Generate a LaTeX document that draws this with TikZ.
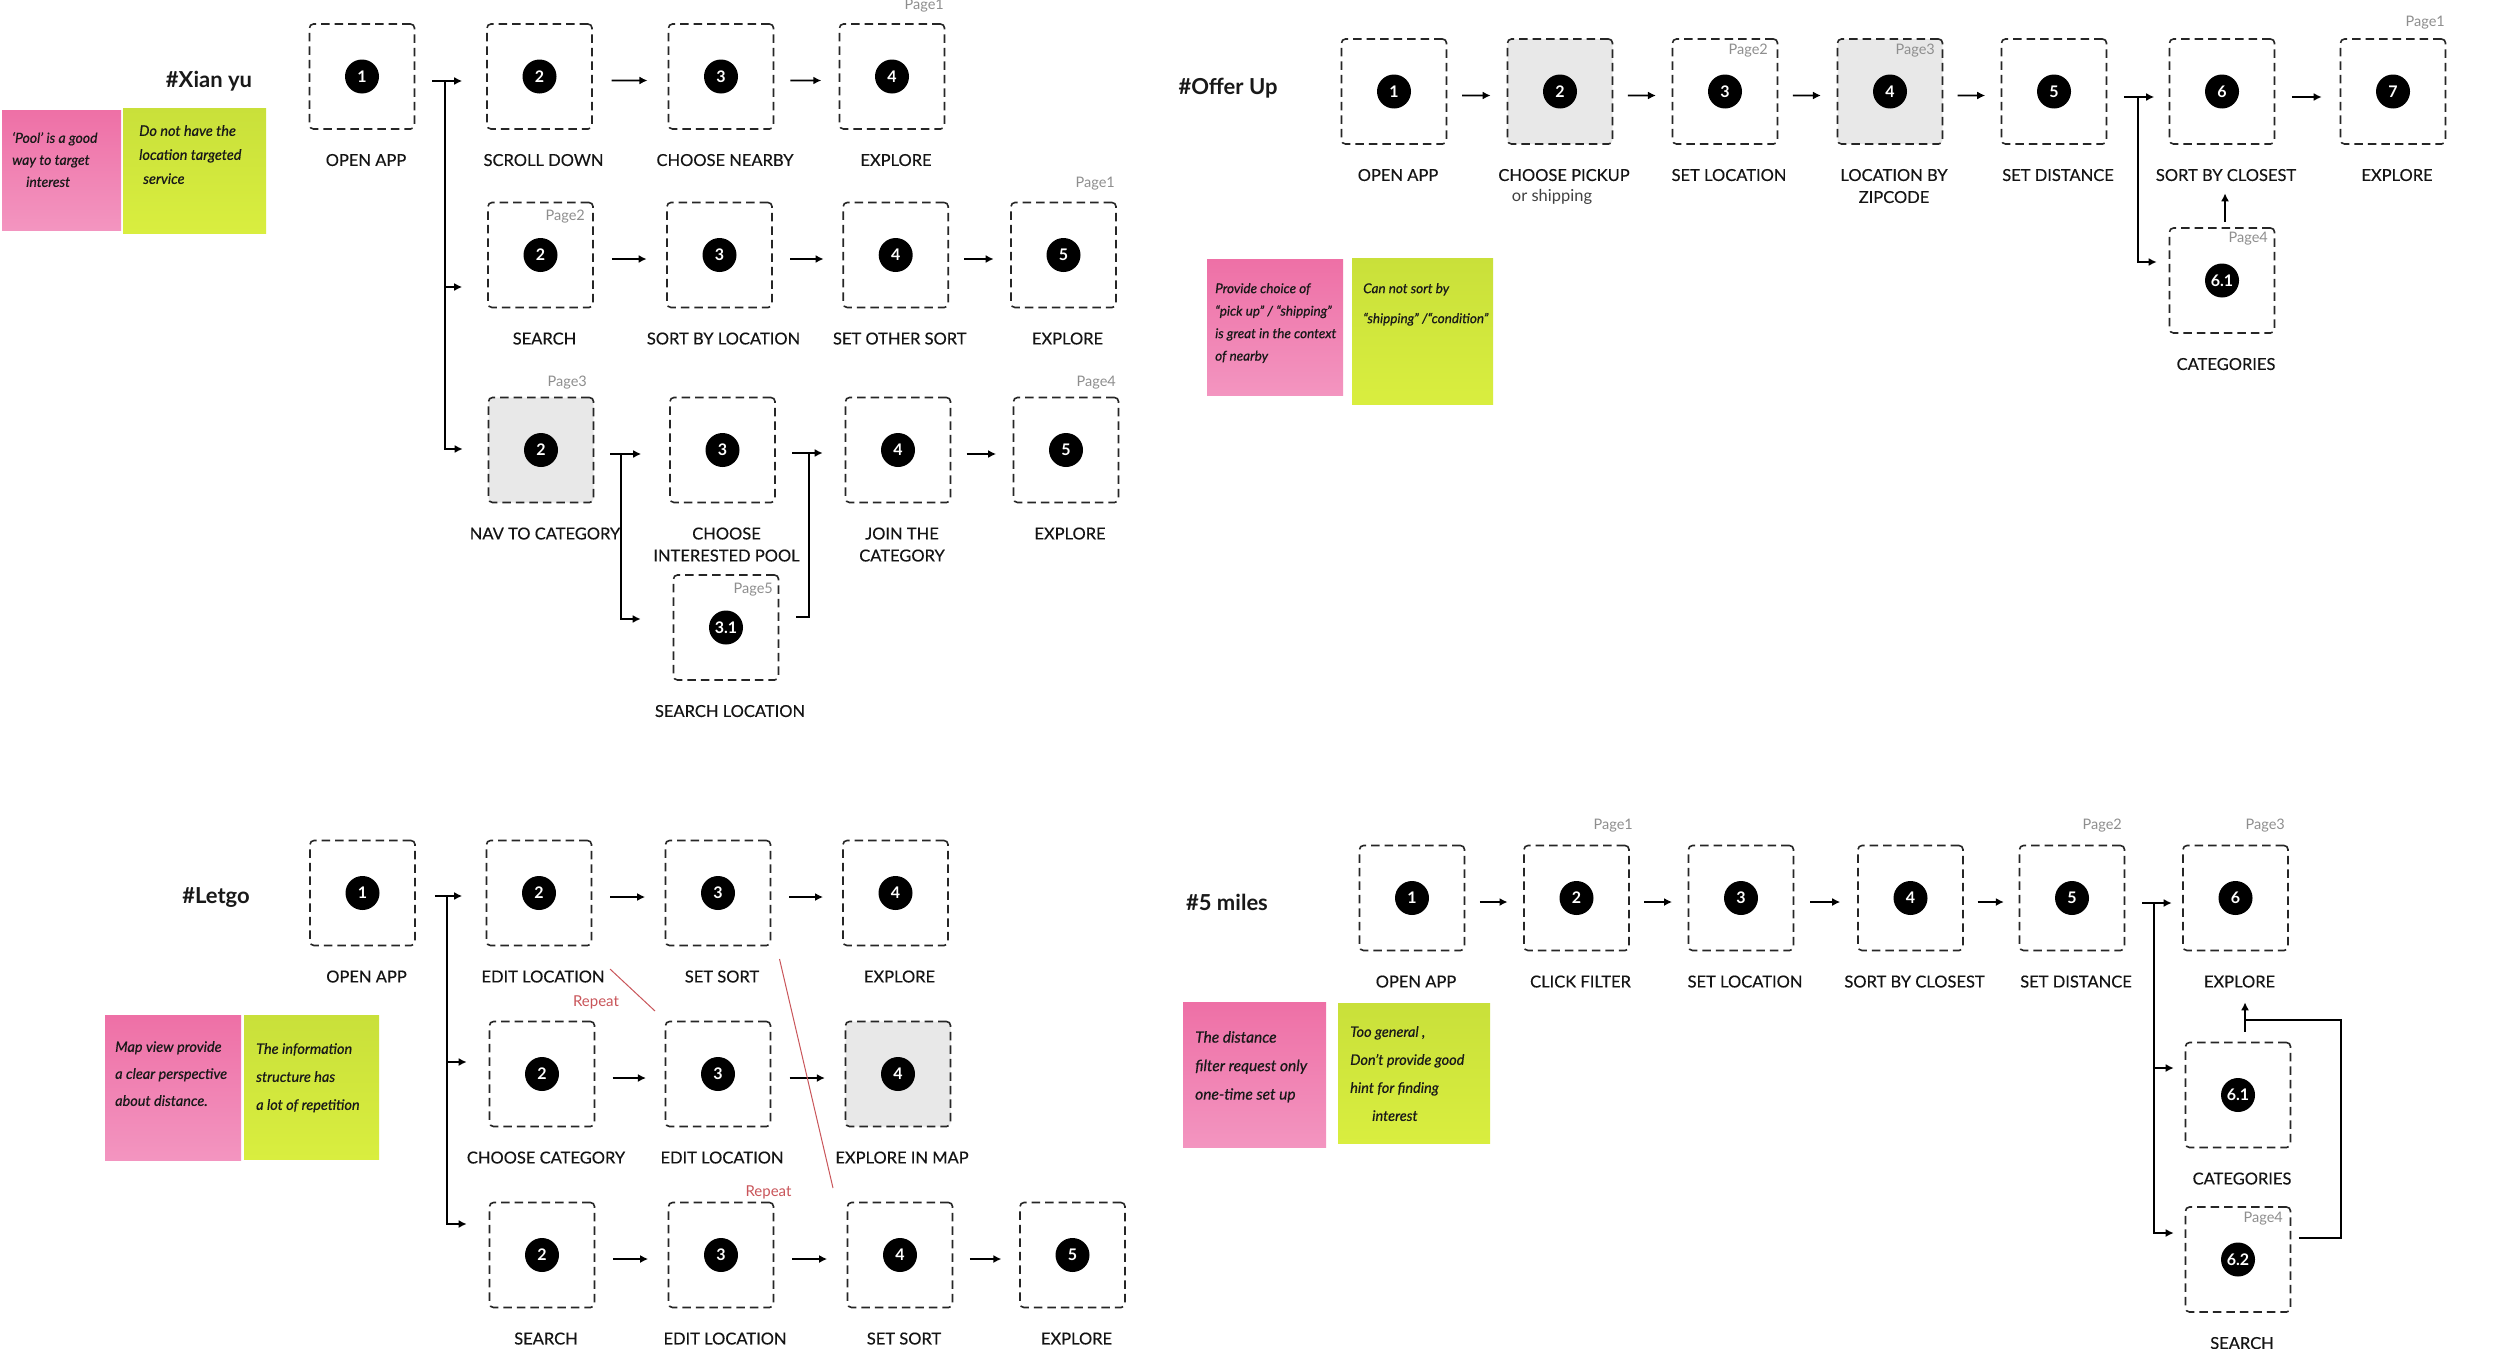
\documentclass[tikz,border=0pt]{standalone}
\usepackage{fontspec}
\setmainfont{Lato}
\newfontfamily\lblfont{Lato}[FakeBold=0.35]
\newfontfamily\notefont{Lato}[FakeBold=0.6]
\usetikzlibrary{arrows.meta,calc}
\definecolor{stkpinkA}{HTML}{EE70A6}
\definecolor{stkpinkB}{HTML}{F395C0}
\definecolor{stkgreenA}{HTML}{C9E03A}
\definecolor{stkgreenB}{HTML}{D9EE3F}
\definecolor{boxgray}{HTML}{E8E8E8}
\definecolor{pagegray}{HTML}{8E8E8E}
\definecolor{repred}{HTML}{C9555A}
\tikzset{
  scr/.style={draw=black!85, line width=1.6pt, dash pattern=on 8.5pt off 5pt,
    rounded corners=4pt, minimum width=105pt, minimum height=105pt, inner sep=0pt},
  grayscr/.style={scr, fill=boxgray},
  num/.style={circle, fill=black, text=white, minimum size=34pt, inner sep=0pt,
    font=\fontsize{16}{16}\selectfont\bfseries},
  lbl/.style={anchor=north, inner sep=0pt, align=center, text=black!92,
    font=\lblfont\fontsize{16.5}{22}\selectfont},
  sublbl/.style={inner sep=0pt, text=black!75, font=\fontsize{16.5}{22}\selectfont},
  flow/.style={line width=1.8pt, -{Latex[length=8pt,width=8pt]}},
  link/.style={line width=1.8pt},
  pg/.style={anchor=east, inner sep=0pt, text=pagegray, font=\fontsize{14.5}{14.5}\selectfont},
  head/.style={inner sep=0pt, text=black!90, font=\fontsize{22}{22}\selectfont\bfseries},
  stkpink/.style={anchor=north west, inner sep=0pt, top color=stkpinkA, bottom color=stkpinkB},
  stkgreen/.style={anchor=north west, inner sep=0pt, top color=stkgreenA, bottom color=stkgreenB},
  note/.style={anchor=north west, inner sep=0pt, align=left, text=black!90},
  rep/.style={inner sep=0pt, text=repred, font=\fontsize{15}{15}\selectfont},
  repline/.style={draw=repred, line width=1pt},
}
\newcommand\scrnode[5]{%
  \node[#2] (#1) at (#3) {};
  \node[num] (#1n) at (#1) {#4};
  \node[lbl] (#1l) at ($(#1.south)+(4,24)$) {#5};}
\newcommand\flowto[2]{%
  \draw[flow] ($(#1.east)!0.25!(#2.west)+(0,4)$) -- ($(#1.east)!0.73!(#2.west)+(0,4)$);}
\begin{document}
\begin{tikzpicture}[x=1pt,y=-1pt]
\fill[white] (0,0) rectangle (2500,1349);
\useasboundingbox (0,0) rectangle (2500,1349);

% ================= #Xian yu =================
\node[head] (hx) at (209,81) {\#Xian yu};
\node[stkpink, minimum width=119pt, minimum height=120pt] (xs1) at (2,110) {};
\node[stkgreen, minimum width=143pt, minimum height=125pt] (xs2) at (123,108) {};
\node[note, font=\notefont\fontsize{14}{22}\selectfont\itshape] (xs1t) at (12,132) {‘Pool’ is a good\\way to target\\\hspace*{14pt}interest};
\node[note, font=\notefont\fontsize{14.5}{24}\selectfont\itshape] (xs2t) at (139,125) {Do not have the\\location targeted\\\hspace*{4pt}service};

\scrnode{xa1}{scr}{362,76.5}{1}{OPEN APP}
\scrnode{xa2}{scr}{539.5,76.5}{2}{SCROLL DOWN}
\scrnode{xa3}{scr}{721,76.5}{3}{CHOOSE NEARBY}
\scrnode{xa4}{scr}{892,76.5}{4}{EXPLORE}
\scrnode{xb2}{scr}{540.5,255}{2}{SEARCH}
\scrnode{xb3}{scr}{719.5,255}{3}{SORT BY LOCATION}
\scrnode{xb4}{scr}{895.7,255}{4}{SET OTHER SORT}
\scrnode{xb5}{scr}{1063.5,255}{5}{EXPLORE}
\scrnode{xc2}{grayscr}{541,450}{2}{NAV TO CATEGORY}
\scrnode{xc3}{scr}{722.5,450}{3}{CHOOSE\\INTERESTED POOL}
\scrnode{xc4}{scr}{898,450}{4}{JOIN THE\\CATEGORY}
\scrnode{xc5}{scr}{1066,450}{5}{EXPLORE}
\scrnode{xc31}{scr}{726,627.5}{3.1}{SEARCH LOCATION}

\node[pg] (xa4p) at (944,6) {Page1};
\node[pg] (xb2p) at (585,217) {Page2};
\node[pg] (xb5p) at (1115,184) {Page1};
\node[pg] (xc2p) at (587,383) {Page3};
\node[pg] (xc5p) at (1116,383) {Page4};
\node[pg] (xc31p) at (773,590) {Page5};

\draw[flow] ($(xa1.east)+(17,4.5)$) -- ($(xa2.west)+(-24,4.5)$);
\coordinate (xj1) at ($(xa1.east)+(29.7,4.5)$);
\coordinate (xj2) at ($(xj1)+(0,206)$);
\draw[flow] (xj1) |- ($(xc2.west)+(-25,-1)$);
\draw[flow] (xj2) -- ($(xj2 -| xb2.west)+(-25,0)$);
\flowto{xa2}{xa3}
\flowto{xa3}{xa4}
\flowto{xb2}{xb3}
\flowto{xb3}{xb4}
\flowto{xb4}{xb5}
\draw[flow] ($(xc2.east)+(16,4)$) -- ($(xc3.west)+(-28,4)$);
\coordinate (xk1) at ($(xc2.east)+(27,4)$);
\draw[flow] (xk1) |- ($(xc31.west)+(-32,-8.5)$);
\draw[flow] ($(xc3.east)+(16.5,3)$) -- ($(xc4.west)+(-22,3)$);
\coordinate (xk3) at ($(xc3.east)+(33.5,3)$);
\draw[link] ($(xc31.east)+(17,-10.5)$) -| (xk3);
\flowto{xc4}{xc5}

% ================= #Offer Up =================
\node[head] (ho) at (1228,88) {\#Offer Up};
\node[stkpink, minimum width=136pt, minimum height=136pt] (os1) at (1207,259) {};
\node[stkgreen, minimum width=141pt, minimum height=146pt] (os2) at (1352,258) {};
\node[note, font=\notefont\fontsize{13.5}{22.5}\selectfont\itshape] (os1t) at (1215,283) {Provide choice of\\“pick up” / “shipping”\\is great in the context\\of nearby};
\node[note, font=\notefont\fontsize{13.5}{30}\selectfont\itshape] (os2t) at (1363,283) {Can not sort by\\“shipping” /“condition”};

\scrnode{ob1}{scr}{1394,91.5}{1}{OPEN APP}
\scrnode{ob2}{grayscr}{1560,91.5}{2}{CHOOSE PICKUP}
\node[sublbl] (ob2s) at (1552,197) {or shipping};
\scrnode{ob3}{scr}{1725,91.5}{3}{SET LOCATION}
\scrnode{ob4}{grayscr}{1890,91.5}{4}{LOCATION BY\\ZIPCODE}
\scrnode{ob5}{scr}{2054,91.5}{5}{SET DISTANCE}
\scrnode{ob6}{scr}{2222,91.5}{6}{SORT BY CLOSEST}
\scrnode{ob7}{scr}{2393,91.5}{7}{EXPLORE}
\scrnode{o61}{scr}{2222,280.5}{6.1}{CATEGORIES}

\node[pg] (ob3p) at (1768,51) {Page2};
\node[pg] (ob4p) at (1935,51) {Page3};
\node[pg] (ob7p) at (2445,23) {Page1};
\node[pg] (o61p) at (2268,239) {Page4};

\flowto{ob1}{ob2}
\flowto{ob2}{ob3}
\flowto{ob3}{ob4}
\flowto{ob4}{ob5}
\draw[flow] ($(ob5.east)+(16.5,5.5)$) -- ($(ob6.west)+(-14.5,5.5)$);
\coordinate (oj) at ($(ob5.east)+(31,5.5)$);
\draw[flow] (oj) |- ($(o61.west)+(-12,-18.5)$);
\draw[flow] ($(ob6.east)+(16.5,5.5)$) -- ($(ob7.west)+(-18,5.5)$);
\draw[flow] ($(o61.north)+(3,-5)$) -- ($(ob6l.south -| o61.north)+(3,12)$);

% ================= #Letgo =================
\node[head] (hl) at (216,898) {\#Letgo};
\node[stkpink, minimum width=136pt, minimum height=145pt] (ls1) at (105,1015) {};
\node[stkgreen, minimum width=135pt, minimum height=144pt] (ls2) at (244,1015) {};
\node[note, font=\notefont\fontsize{14.5}{27}\selectfont\itshape] (ls1t) at (115,1041) {Map view provide\\a clear perspective\\about distance.};
\node[note, font=\notefont\fontsize{14.5}{28}\selectfont\itshape] (ls2t) at (256,1043) {The information\\structure has\\a lot of repetition};

\scrnode{la1}{scr}{362.5,893}{1}{OPEN APP}
\scrnode{la2}{scr}{539,893}{2}{EDIT LOCATION}
\scrnode{la3}{scr}{718,893}{3}{SET SORT}
\scrnode{la4}{scr}{895.5,893}{4}{EXPLORE}
\scrnode{lb2}{scr}{542,1074}{2}{CHOOSE CATEGORY}
\scrnode{lb3}{scr}{718,1074}{3}{EDIT LOCATION}
\scrnode{lb4}{grayscr}{898,1074}{4}{EXPLORE IN MAP}
\scrnode{lc2}{scr}{542,1255}{2}{SEARCH}
\scrnode{lc3}{scr}{721,1255}{3}{EDIT LOCATION}
\scrnode{lc4}{scr}{900,1255}{4}{SET SORT}
\scrnode{lc5}{scr}{1072.5,1255}{5}{EXPLORE}

\draw[flow] ($(la1.east)+(19,3)$) -- ($(la2.west)+(-23.5,3)$);
\coordinate (lj1) at ($(la1.east)+(31,3)$);
\coordinate (lj2) at ($(lj1)+(0,166)$);
\draw[flow] (lj1) |- ($(lc2.west)+(-22,-31)$);
\draw[flow] (lj2) -- ($(lj2 -| lb2.west)+(-22,0)$);
\flowto{la2}{la3}
\flowto{la3}{la4}
\flowto{lb2}{lb3}
\flowto{lb3}{lb4}
\flowto{lc2}{lc3}
\flowto{lc3}{lc4}
\flowto{lc4}{lc5}

\coordinate (r1a) at (610,969);
\coordinate (r1b) at (655,1011);
\draw[repline] (r1a) -- (r1b);
\node[rep] (rp1) at (596,1002) {Repeat};
\coordinate (r2a) at (779.5,959);
\coordinate (r2b) at (833,1188);
\draw[repline] (r2a) -- (r2b);
\node[rep] (rp2) at (768.5,1192) {Repeat};

% ================= #5 miles =================
\node[head] (hm) at (1227,902) {\#5 miles};
\node[stkpink, minimum width=143pt, minimum height=145pt] (ms1) at (1183,1002) {};
\node[stkgreen, minimum width=152pt, minimum height=140pt] (ms2) at (1338,1003) {};
\node[note, font=\notefont\fontsize{15.5}{28.5}\selectfont\itshape] (ms1t) at (1195,1031) {The distance\\filter request only\\one-time set up};
\node[note, font=\notefont\fontsize{14.5}{28}\selectfont\itshape] (ms2t) at (1350,1026) {Too general ,\\Don’t provide good\\hint for finding\\\hspace*{22pt}interest};

\scrnode{mb1}{scr}{1412,898}{1}{OPEN APP}
\scrnode{mb2}{scr}{1576.5,898}{2}{CLICK FILTER}
\scrnode{mb3}{scr}{1741,898}{3}{SET LOCATION}
\scrnode{mb4}{scr}{1910.5,898}{4}{SORT BY CLOSEST}
\scrnode{mb5}{scr}{2072,898}{5}{SET DISTANCE}
\scrnode{mb6}{scr}{2235.5,898}{6}{EXPLORE}
\scrnode{m61}{scr}{2238,1095}{6.1}{CATEGORIES}
\scrnode{m62}{scr}{2238,1259.5}{6.2}{SEARCH}

\node[pg] (mb2p) at (1633,826) {Page1};
\node[pg] (mb5p) at (2122,826) {Page2};
\node[pg] (mb6p) at (2285,826) {Page3};
\node[pg] (m62p) at (2283,1219) {Page4};

\flowto{mb1}{mb2}
\flowto{mb2}{mb3}
\flowto{mb3}{mb4}
\flowto{mb4}{mb5}
\draw[flow] ($(mb5.east)+(17,5)$) -- ($(mb6.west)+(-10.5,5)$);
\coordinate (mj1) at ($(mb5.east)+(28.5,5)$);
\coordinate (mj2) at ($(mj1)+(0,165)$);
\draw[flow] (mj1) |- ($(m62.west)+(-11,-26.5)$);
\draw[flow] (mj2) -- ($(mj2 -| m61.west)+(-11,0)$);
\draw[flow] ($(m61.north)+(7,-10)$) -- ($(mb6l.south -| m61.north)+(7,14.5)$);
\draw[link] ($(m62.east)+(8,-21.5)$) -- ++(42,0) |- ($(m61.north)+(7,-21.5)$);
\end{tikzpicture}
\end{document}
